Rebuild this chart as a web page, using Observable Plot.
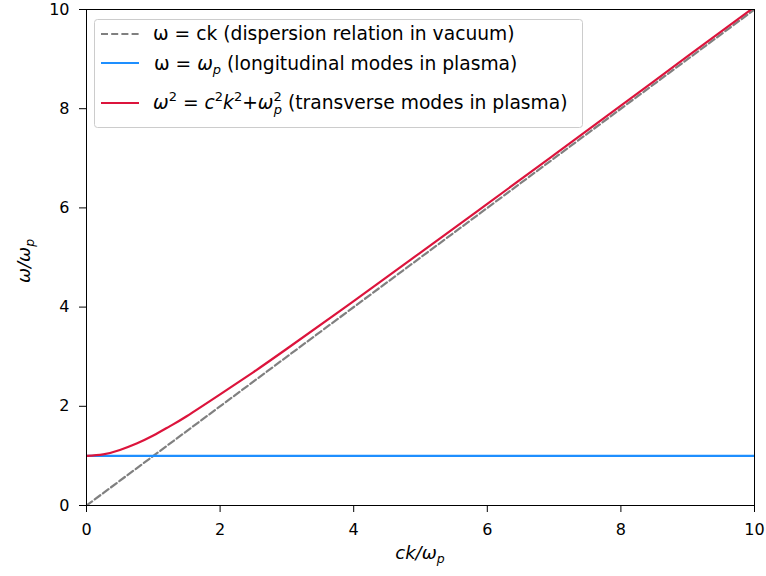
<!DOCTYPE html>
<html>
<head>
<meta charset="utf-8">
<script src="https://cdn.jsdelivr.net/npm/d3@7"></script>
<script src="https://cdn.jsdelivr.net/npm/@observablehq/plot@0.6"></script>
<style>
  html, body { margin: 0; padding: 0; background: #fff; }
  #chart svg { display: block; font-family: "DejaVu Sans", sans-serif; }
</style>
</head>
<body>
<div id="chart"></div>
<script>
// Normalised wavenumber ck/ωp and frequencies ω/ωp
const kVacuum = [0, 10];
const omegaVacuum = [0, 10];

const kLongitudinal = [0, 10];
const omegaLongitudinal = [1, 1];

const kTransverse = [0, 0.25, 0.5, 0.75, 1, 1.25, 1.5, 2, 2.5, 3, 4, 5, 6, 7, 8, 9, 10];
const omegaTransverse = [1.00, 1.03, 1.12, 1.25, 1.41, 1.60, 1.80, 2.24, 2.69, 3.16, 4.12, 5.10, 6.08, 7.07, 8.06, 9.06, 10.05];

const xTicks = [0, 2, 4, 6, 8, 10];
const yTicks = [0, 2, 4, 6, 8, 10];

const toRows = (xs, ys) => xs.map((x, i) => ({x, y: ys[i]}));

const colors = {vacuum: "#808080", longitudinal: "#1e8fff", transverse: "#dc143c"};

const plot = Plot.plot({
  width: 766,
  height: 576,
  marginLeft: 86,
  marginRight: 12,
  marginTop: 9,
  marginBottom: 71,
  style: {fontFamily: "DejaVu Sans, sans-serif", fontSize: "16px", color: "#000", background: "#fff"},
  x: {domain: [0, 10], ticks: xTicks, tickSize: 7, tickPadding: 11, label: null},
  y: {domain: [0, 10], ticks: yTicks, tickSize: 7, tickPadding: 10, label: null},
  marks: [
    Plot.line(toRows(kVacuum, omegaVacuum), {x: "x", y: "y", stroke: colors.vacuum, strokeWidth: 2.2, strokeDasharray: "7,3.2", clip: true}),
    Plot.line(toRows(kLongitudinal, omegaLongitudinal), {x: "x", y: "y", stroke: colors.longitudinal, strokeWidth: 2.2, clip: true}),
    Plot.line(toRows(kTransverse, omegaTransverse), {x: "x", y: "y", stroke: colors.transverse, strokeWidth: 2.2, curve: "natural", clip: true}),
    Plot.frame({stroke: "#000", strokeWidth: 1})
  ]
});

document.getElementById("chart").appendChild(plot);

const svg = d3.select(plot);
const xs = plot.scale("x");
const ys = plot.scale("y");

// Axis titles with italic math and subscripts
const xMid = (xs.apply(0) + xs.apply(10)) / 2;
const yMid = (ys.apply(0) + ys.apply(10)) / 2;

const xLabel = svg.append("text")
  .attr("x", xMid).attr("y", 559)
  .attr("text-anchor", "middle")
  .attr("font-size", 18).attr("font-style", "italic").attr("fill", "#000");
xLabel.append("tspan").text("ck/ω");
xLabel.append("tspan").attr("font-size", 12.5).attr("dy", 4).text("p");

const yLabel = svg.append("text")
  .attr("transform", `translate(30,${yMid + 4}) rotate(-90)`)
  .attr("text-anchor", "middle")
  .attr("font-size", 18).attr("font-style", "italic").attr("fill", "#000");
yLabel.append("tspan").text("ω/ω");
yLabel.append("tspan").attr("font-size", 12.5).attr("dy", 4).text("p");

// Legend
const legend = svg.append("g")
  .attr("font-size", 18.7).attr("fill", "#000").attr("text-anchor", "start");
legend.append("rect")
  .attr("x", 94.5).attr("y", 19.5).attr("width", 488).attr("height", 108)
  .attr("rx", 3).attr("fill", "#fff").attr("fill-opacity", 0.85)
  .attr("stroke", "#cccccc").attr("stroke-width", 1);

const rows = [
  {y: 34, color: colors.vacuum, dash: "7,3.2"},
  {y: 63, color: colors.longitudinal, dash: null},
  {y: 103, color: colors.transverse, dash: null}
];
rows.forEach(r => {
  legend.append("line")
    .attr("x1", 101).attr("x2", 139).attr("y1", r.y).attr("y2", r.y)
    .attr("stroke", r.color).attr("stroke-width", 2.2)
    .attr("stroke-dasharray", r.dash);
});

const t1 = legend.append("text").attr("x", 153).attr("y", 40);
t1.append("tspan").text("ω = ck (dispersion relation in vacuum)");

const t2 = legend.append("text").attr("x", 154).attr("y", 70);
t2.append("tspan").text("ω = ");
t2.append("tspan").attr("font-style", "italic").text("ω");
t2.append("tspan").attr("font-style", "italic").attr("font-size", 13).attr("dy", 4).text("p");
t2.append("tspan").attr("dy", -4).text(" (longitudinal modes in plasma)");

const t3 = legend.append("text").attr("x", 153).attr("y", 109);
t3.append("tspan").attr("font-style", "italic").text("ω");
t3.append("tspan").attr("font-size", 13).attr("dy", -8).text("2");
t3.append("tspan").attr("dy", 8).text(" = ");
t3.append("tspan").attr("font-style", "italic").text("c");
t3.append("tspan").attr("font-size", 13).attr("dy", -8).text("2");
t3.append("tspan").attr("font-style", "italic").attr("dy", 8).text("k");
t3.append("tspan").attr("font-size", 13).attr("dy", -8).text("2");
t3.append("tspan").attr("dy", 8).text("+");
t3.append("tspan").attr("font-style", "italic").text("ω");
t3.append("tspan").attr("font-size", 13).attr("dy", -8).text("2");
t3.append("tspan").attr("font-style", "italic").attr("font-size", 13).attr("dx", -8).attr("dy", 13).text("p");
t3.append("tspan").attr("dy", -5).text(" (transverse modes in plasma)");
</script>
</body>
</html>
